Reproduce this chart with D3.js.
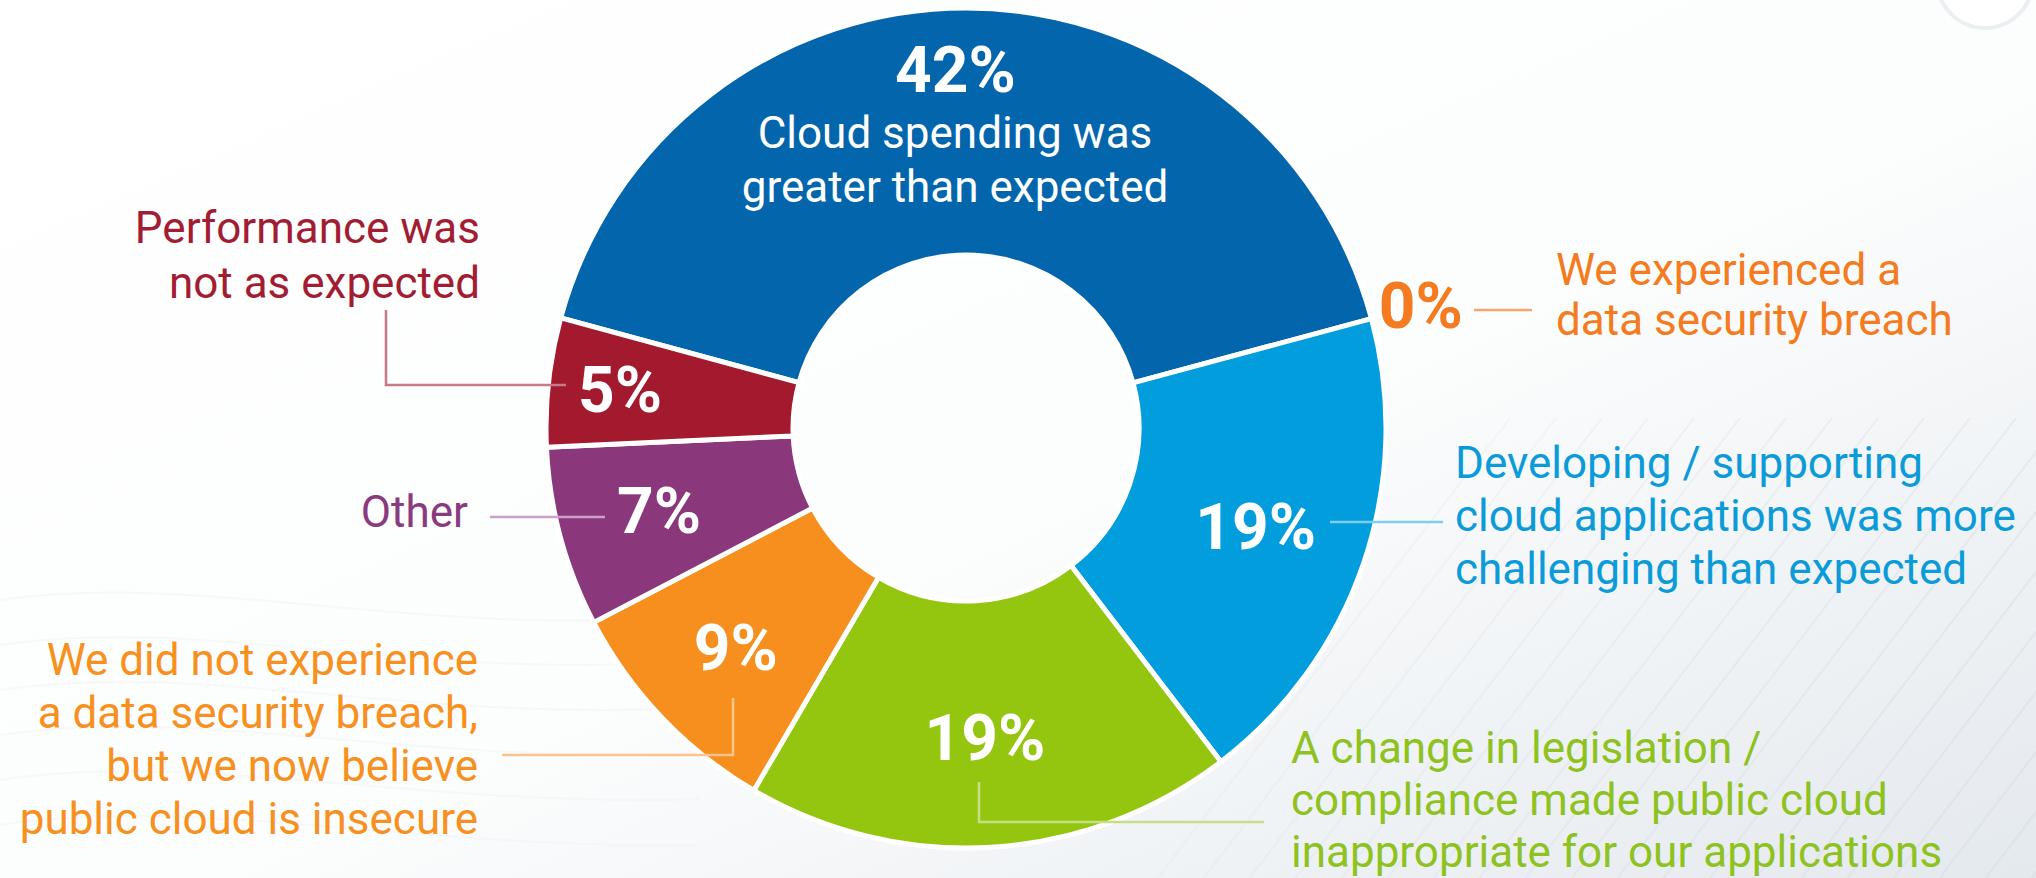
<!DOCTYPE html>
<html>
<head>
<meta charset="utf-8">
<script src="https://cdn.jsdelivr.net/npm/d3@7"></script>
<style>
  html, body { margin: 0; padding: 0; background: #fff; }
  svg { display: block; }
</style>
</head>
<body>
<div id="chart"></div>
<script>
// reasons cloud workloads were moved back, share of respondents
const categories = [
  "Cloud spending was greater than expected",
  "We experienced a data security breach",
  "Developing / supporting cloud applications was more challenging than expected",
  "A change in legislation / compliance made public cloud inappropriate for our applications",
  "We did not experience a data security breach, but we now believe public cloud is insecure",
  "Other",
  "Performance was not as expected"
];
const values = [42, 0, 19, 19, 9, 7, 5];
const sliceColors = ["#0366ad", "#f47b20", "#029ddd", "#94c60f", "#f78f1e", "#8a377c", "#a3192d"];
const textColors  = ["#ffffff", "#f47b20", "#0b9bd9", "#8dc21f", "#f7901e", "#8a3a7e", "#a21d32"];
const lineColors  = ["#ffffff", "#f6a66f", "#7fcdf0", "#c4df86", "#fac48c", "#cf9fc8", "#c87a88"];
// label text broken into lines as printed
const labelLines = [
  ["Cloud spending was", "greater than expected"],
  ["We experienced a", "data security breach"],
  ["Developing / supporting", "cloud applications was more", "challenging than expected"],
  ["A change in legislation /", "compliance made public cloud", "inappropriate for our applications"],
  ["We did not experience", "a data security breach,", "but we now believe", "public cloud is insecure"],
  ["Other"],
  ["Performance was", "not as expected"]
];

const W = 2036, H = 878;
const cx = 966, cy = 428;
const outerR = 420, innerR = 173;
const deg = Math.PI / 180;
const start = -74.8 * deg;

const svg = d3.select("#chart").append("svg")
  .attr("width", W)
  .attr("height", H)
  .style("font-family", "Roboto, 'DejaVu Sans', sans-serif");

// faint background texture (bottom right panels)
const defs = svg.append("defs");
const bg = defs.append("linearGradient").attr("id", "bgfade")
  .attr("x1", "0%").attr("y1", "0%").attr("x2", "100%").attr("y2", "100%");
bg.append("stop").attr("offset", "0%").attr("stop-color", "#ffffff");
bg.append("stop").attr("offset", "55%").attr("stop-color", "#fcfdfd");
bg.append("stop").attr("offset", "100%").attr("stop-color", "#e4e9ee");
svg.append("rect").attr("width", W).attr("height", H).attr("fill", "url(#bgfade)");

const tex = svg.append("g").attr("stroke", "#d9dfe6").attr("stroke-width", 2).attr("fill", "none");
d3.range(0, 24).forEach(i => {
  const x0 = 1150 + i * 46;
  tex.append("path")
    .attr("d", `M${x0},${H + 10} L${x0 + 360},${H - 460}`)
    .attr("opacity", 0.2 + 0.6 * (i / 24));
});
d3.range(0, 6).forEach(i => {
  tex.append("path")
    .attr("d", `M0,${600 + i * 45} C200,${570 + i * 45} 420,${640 + i * 42} 700,${615 + i * 46}`)
    .attr("stroke", "#f2f4f6").attr("opacity", 0.6);
});
svg.append("circle").attr("cx", 1985).attr("cy", -20).attr("r", 48)
  .attr("fill", "#fff").attr("stroke", "#eceff2").attr("stroke-width", 4);

// donut
const pie = d3.pie().sort(null).value(d => d)
  .startAngle(start).endAngle(start + 2 * Math.PI);
const arcs = pie(values);
const arc = d3.arc().innerRadius(innerR).outerRadius(outerR);

const g = svg.append("g").attr("transform", `translate(${cx},${cy})`);
g.selectAll("path.slice")
  .data(arcs.filter(d => d.value > 0))
  .join("path")
  .attr("class", "slice")
  .attr("d", arc)
  .attr("fill", d => sliceColors[d.index])
  .attr("stroke", "#fff")
  .attr("stroke-width", 5)
  .attr("stroke-linejoin", "round");

// percentage labels
const labelR = [358, 471, 306, 310, 318, 318, 348];
const pct = svg.append("g")
  .attr("font-weight", 700)
  .attr("font-size", 64);
arcs.forEach(d => {
  const a = d.value > 0 ? (d.startAngle + d.endAngle) / 2 : d.startAngle;
  const r = labelR[d.index];
  const x = cx + r * Math.sin(a);
  const y = cy - r * Math.cos(a);
  pct.append("text")
    .attr("x", x - (d.index === 0 ? 11 : 0))
    .attr("y", y)
    .attr("dy", "0.35em")
    .attr("text-anchor", "middle")
    .attr("fill", d.value > 0 ? "#fff" : textColors[d.index])
    .text(d.value + "%");
});

// annotation layout: anchor, baseline of first line, line spacing, leader path
const notes = [
  { x: 955,  y: 148, dy: 54, anchor: "middle", leader: null },
  { x: 1556, y: 285, dy: 50, anchor: "start",  leader: [[1474, 310], [1532, 310]] },
  { x: 1455, y: 478, dy: 53, anchor: "start",  leader: [[1330, 522], [1443, 522]] },
  { x: 1291, y: 763, dy: 52, anchor: "start",  leader: [[979, 782], [979, 822], [1264, 822]] },
  { x: 478,  y: 675, dy: 53, anchor: "end",    leader: [[733, 698], [733, 755], [502, 755]] },
  { x: 468,  y: 527, dy: 53, anchor: "end",    leader: [[490, 517], [605, 517]] },
  { x: 480,  y: 243, dy: 55, anchor: "end",    leader: [[386, 310], [386, 385], [566, 385]] }
];

const line = d3.line();
const ann = svg.append("g").attr("font-size", 44);
notes.forEach((n, i) => {
  if (n.leader) {
    ann.append("path")
      .attr("d", line(n.leader))
      .attr("fill", "none")
      .attr("stroke", lineColors[i])
      .attr("stroke-width", 2.5);
  }
  const t = ann.append("text")
    .attr("text-anchor", n.anchor)
    .attr("fill", textColors[i]);
  labelLines[i].forEach((s, k) => {
    t.append("tspan").attr("x", n.x).attr("y", n.y + k * n.dy).text(s);
  });
});
</script>
</body>
</html>
